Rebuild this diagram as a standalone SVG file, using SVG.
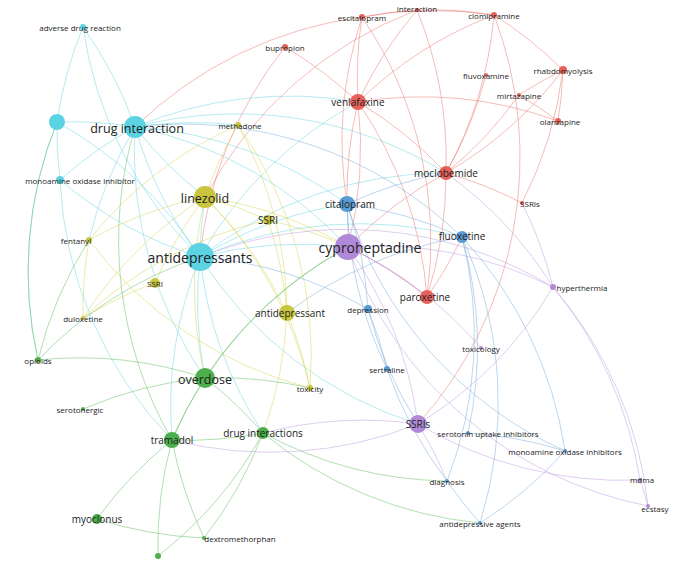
<svg xmlns="http://www.w3.org/2000/svg" width="685" height="565" viewBox="0 0 685 565">
<style>
text{font-family:"Open Sans","Noto Sans",sans-serif;fill:#222;text-anchor:middle;dominant-baseline:central}
.s{font-size:8px}.m{font-size:10px}.l{font-size:12.5px}.xl{font-size:14px}
path{fill:none;stroke-width:1;stroke-opacity:.45}
.c{stroke:#5bd3e2}.y{stroke:#d4d040}.g{stroke:#55b855}.r{stroke:#ea6a64}.b{stroke:#6aa3d8}.p{stroke:#bb92dc}
.nc{fill:#5bd3e2}.ny{fill:#c9c63e}.ng{fill:#4caf4c}.nr{fill:#e8605a}.nb{fill:#5b9bd5}.np{fill:#b08ad8}
</style>
<rect width="685" height="565" fill="#fff"/>
<g id="connectors">
<path class="c" d="M200 257A400 400 0 0 1 135 127"/><path class="c" d="M200 257A400 400 0 0 0 57 122"/><path class="c" d="M200 257A400 400 0 0 1 60 180"/><path class="c" d="M200 257A400 400 0 0 1 205 197"/><path class="c" d="M200 257A400 400 0 0 1 348 247"/><path class="c" d="M200 257A400 400 0 0 1 347 204"/><path class="c" d="M200 257A400 400 0 0 1 358 102"/><path class="c" d="M200 257A400 400 0 0 0 205 378"/><path class="c" d="M200 257A400 400 0 0 0 172 440"/><path class="c" d="M200 257A400 400 0 0 0 263 433"/><path class="c" d="M200 257A400 400 0 0 0 418 424"/><path class="c" d="M135 127A400 400 0 0 0 83 27"/><path class="c" d="M135 127A400 400 0 0 0 57 122"/><path class="c" d="M135 127A400 400 0 0 0 60 180"/><path class="c" d="M135 127A400 400 0 0 0 205 197"/><path class="c" d="M135 127A400 400 0 0 1 238 125"/><path class="c" d="M135 127A400 400 0 0 1 348 247"/><path class="c" d="M135 127A400 400 0 0 0 89 240"/><path class="c" d="M135 127A400 400 0 0 1 358 102"/><path class="c" d="M57 122A400 400 0 0 1 83 27"/><path class="c" d="M57 122A400 400 0 0 0 60 180"/><path class="c" d="M60 180A400 400 0 0 0 172 440"/><path class="c" d="M135 127A400 400 0 0 0 205 378"/><path class="c" d="M200 257A400 400 0 0 1 446 173"/><path class="c" d="M135 127A400 400 0 0 1 347 204"/><path class="c" d="M200 257A400 400 0 0 1 462 237"/><path class="c" d="M83 27A400 400 0 0 0 200 257"/><path class="c" d="M57 122A400 400 0 0 0 38 360"/><path class="c" d="M135 127A400 400 0 0 1 446 173"/>
<path class="r" d="M358 102A400 400 0 0 1 362 17"/><path class="r" d="M358 102A400 400 0 0 1 417 10"/><path class="r" d="M358 102A400 400 0 0 1 494 15"/><path class="r" d="M358 102A400 400 0 0 0 285 47"/><path class="r" d="M358 102A400 400 0 0 1 446 173"/><path class="r" d="M358 102A400 400 0 0 1 427 297"/><path class="r" d="M358 102A400 400 0 0 0 347 204"/><path class="r" d="M446 173A400 400 0 0 0 494 15"/><path class="r" d="M446 173A400 400 0 0 0 486 75"/><path class="r" d="M446 173A400 400 0 0 0 563 70"/><path class="r" d="M446 173A400 400 0 0 0 519 95"/><path class="r" d="M446 173A400 400 0 0 1 427 297"/><path class="r" d="M446 173A400 400 0 0 0 348 247"/><path class="r" d="M362 17A400 400 0 0 1 417 10"/><path class="r" d="M362 17A400 400 0 0 1 494 15"/><path class="r" d="M417 10A400 400 0 0 1 494 15"/><path class="r" d="M494 15A400 400 0 0 1 563 70"/><path class="r" d="M563 70A400 400 0 0 1 558 121"/><path class="r" d="M519 95A400 400 0 0 1 558 121"/><path class="r" d="M427 297A400 400 0 0 0 462 237"/><path class="r" d="M362 17A400 400 0 0 1 427 297"/><path class="r" d="M417 10A400 400 0 0 1 446 173"/><path class="r" d="M522 203A400 400 0 0 0 446 173"/><path class="r" d="M427 297A400 400 0 0 0 348 247"/><path class="r" d="M358 102A400 400 0 0 1 348 247"/><path class="r" d="M563 70A400 400 0 0 0 519 95"/><path class="r" d="M362 17A400 400 0 0 0 347 204"/><path class="r" d="M285 47A400 400 0 0 0 200 257"/><path class="r" d="M494 15A400 400 0 0 1 418 424"/><path class="r" d="M358 102A400 400 0 0 1 558 121"/><path class="r" d="M417 10A400 400 0 0 0 205 197"/><path class="r" d="M563 70A400 400 0 0 1 522 203"/><path class="r" d="M362 17A400 400 0 0 0 135 127"/>
<path class="y" d="M205 197A400 400 0 0 1 268 220"/><path class="y" d="M205 197A400 400 0 0 1 238 125"/><path class="y" d="M205 197A400 400 0 0 0 89 240"/><path class="y" d="M205 197A400 400 0 0 1 287 313"/><path class="y" d="M205 197A400 400 0 0 0 155 283"/><path class="y" d="M205 197A400 400 0 0 1 348 247"/><path class="y" d="M205 197A400 400 0 0 1 310 388"/><path class="y" d="M205 197A400 400 0 0 0 83 318"/><path class="y" d="M268 220A400 400 0 0 1 287 313"/><path class="y" d="M268 220A400 400 0 0 1 348 247"/><path class="y" d="M287 313A400 400 0 0 1 310 388"/><path class="y" d="M89 240A400 400 0 0 0 83 318"/><path class="y" d="M238 125A400 400 0 0 1 287 313"/><path class="y" d="M287 313A400 400 0 0 1 263 433"/><path class="y" d="M205 197A400 400 0 0 0 205 378"/><path class="y" d="M155 283A400 400 0 0 0 83 318"/><path class="y" d="M238 125A400 400 0 0 0 89 240"/><path class="y" d="M238 125A400 400 0 0 1 310 388"/><path class="y" d="M89 240A400 400 0 0 0 310 388"/><path class="y" d="M268 220A400 400 0 0 0 83 318"/>
<path class="g" d="M205 378A400 400 0 0 0 172 440"/><path class="g" d="M205 378A400 400 0 0 1 263 433"/><path class="g" d="M205 378A400 400 0 0 0 38 360"/><path class="g" d="M172 440A400 400 0 0 0 204 538"/><path class="g" d="M172 440A400 400 0 0 0 97 519"/><path class="g" d="M172 440A400 400 0 0 0 158 556"/><path class="g" d="M263 433A400 400 0 0 1 204 538"/><path class="g" d="M263 433A400 400 0 0 0 447 481"/><path class="g" d="M38 360A400 400 0 0 1 89 240"/><path class="g" d="M205 378A400 400 0 0 0 83 409"/><path class="g" d="M172 440A400 400 0 0 0 263 433"/><path class="g" d="M205 378A400 400 0 0 1 310 388"/><path class="g" d="M97 519A400 400 0 0 0 204 538"/><path class="g" d="M263 433A400 400 0 0 1 158 556"/><path class="g" d="M38 360A400 400 0 0 1 200 257"/><path class="g" d="M172 440A400 400 0 0 1 348 247"/><path class="g" d="M263 433A400 400 0 0 0 480 523"/><path class="g" d="M38 360A400 400 0 0 1 57 122"/><path class="g" d="M172 440A400 400 0 0 1 135 127"/><path class="g" d="M205 378A400 400 0 0 1 348 247"/>
<path class="b" d="M347 204A400 400 0 0 1 462 237"/><path class="b" d="M347 204A400 400 0 0 1 368 309"/><path class="b" d="M347 204A400 400 0 0 0 387 369"/><path class="b" d="M462 237A400 400 0 0 1 468 433"/><path class="b" d="M462 237A400 400 0 0 1 565 451"/><path class="b" d="M462 237A400 400 0 0 1 447 481"/><path class="b" d="M368 309A400 400 0 0 1 387 369"/><path class="b" d="M468 433A400 400 0 0 1 565 451"/><path class="b" d="M447 481A400 400 0 0 0 480 523"/><path class="b" d="M347 204A400 400 0 0 1 348 247"/><path class="b" d="M462 237A400 400 0 0 1 480 523"/><path class="b" d="M368 309A400 400 0 0 0 418 424"/><path class="b" d="M347 204A400 400 0 0 1 446 173"/><path class="b" d="M368 309A400 400 0 0 0 200 257"/><path class="b" d="M387 369A400 400 0 0 0 447 481"/><path class="b" d="M565 451A400 400 0 0 1 480 523"/><path class="b" d="M347 204A400 400 0 0 0 565 451"/><path class="b" d="M462 237A400 400 0 0 0 287 313"/><path class="b" d="M135 127A400 400 0 0 1 462 237"/>
<path class="p" d="M348 247A400 400 0 0 1 418 424"/><path class="p" d="M348 247A400 400 0 0 1 553 287"/><path class="p" d="M348 247A400 400 0 0 1 481 348"/><path class="p" d="M418 424A400 400 0 0 0 553 287"/><path class="p" d="M553 287A400 400 0 0 1 640 480"/><path class="p" d="M553 287A400 400 0 0 1 648 506"/><path class="p" d="M640 480A400 400 0 0 1 648 506"/><path class="p" d="M418 424A400 400 0 0 0 640 480"/><path class="p" d="M418 424A400 400 0 0 1 447 481"/><path class="p" d="M553 287A400 400 0 0 0 446 173"/><path class="p" d="M348 247A400 400 0 0 0 648 506"/><path class="p" d="M418 424A400 400 0 0 0 263 433"/><path class="p" d="M553 287A400 400 0 0 0 522 203"/><path class="p" d="M348 247A400 400 0 0 1 427 297"/><path class="p" d="M553 287A400 400 0 0 0 200 257"/><path class="p" d="M418 424A400 400 0 0 1 172 440"/>
</g>
<g id="n-antidepressants"><circle cx="200" cy="257" r="14" class="nc"/><text x="200" y="257" class="xl">antidepressants</text></g>
<g id="n-druginteraction"><circle cx="135" cy="127" r="11" class="nc"/><text x="137" y="128" class="l">drug interaction</text></g>
<g id="n-cyan-unl"><circle cx="57" cy="122" r="8" class="nc"/></g>
<g id="n-adr"><circle cx="83" cy="27" r="3" class="nc"/><text x="80" y="27" class="s">adverse drug reaction</text></g>
<g id="n-mao"><circle cx="60" cy="180" r="4" class="nc"/><text x="80" y="180" class="s">monoamine oxidase inhibitor</text></g>
<g id="n-linezolid"><circle cx="205" cy="197" r="11" class="ny"/><text x="205" y="198" class="l">linezolid</text></g>
<g id="n-ssri1"><circle cx="268" cy="220" r="5" class="ny"/><text x="268" y="220" class="m">SSRI</text></g>
<g id="n-ssri2"><circle cx="155" cy="283" r="5" class="ny"/><text x="155" y="283" class="s">SSRI</text></g>
<g id="n-antidepressant"><circle cx="287" cy="313" r="8" class="ny"/><text x="290" y="313" class="m">antidepressant</text></g>
<g id="n-methadone"><circle cx="238" cy="125" r="3" class="ny"/><text x="240" y="125" class="s">methadone</text></g>
<g id="n-fentanyl"><circle cx="89" cy="240" r="3" class="ny"/><text x="76" y="240" class="s">fentanyl</text></g>
<g id="n-duloxetine"><circle cx="83" cy="318" r="2" class="ny"/><text x="83" y="318" class="s">duloxetine</text></g>
<g id="n-toxicity"><circle cx="310" cy="388" r="3" class="ny"/><text x="310" y="388" class="s">toxicity</text></g>
<g id="n-overdose"><circle cx="205" cy="378" r="10" class="ng"/><text x="205" y="379" class="l">overdose</text></g>
<g id="n-tramadol"><circle cx="172" cy="440" r="8" class="ng"/><text x="172" y="440" class="m">tramadol</text></g>
<g id="n-druginteractions"><circle cx="263" cy="433" r="6" class="ng"/><text x="263" y="433" class="m">drug interactions</text></g>
<g id="n-opioids"><circle cx="38" cy="360" r="3" class="ng"/><text x="38" y="360" class="s">opioids</text></g>
<g id="n-serotonergic"><circle cx="83" cy="409" r="2" class="ng"/><text x="80" y="409" class="s">serotonergic</text></g>
<g id="n-myoclonus"><circle cx="97" cy="519" r="5" class="ng"/><text x="97" y="519" class="m">myoclonus</text></g>
<g id="n-dext"><circle cx="204" cy="538" r="2" class="ng"/><text x="240" y="538" class="s">dextromethorphan</text></g>
<g id="n-green-unl"><circle cx="158" cy="556" r="3" class="ng"/></g>
<g id="n-venlafaxine"><circle cx="358" cy="102" r="8" class="nr"/><text x="358" y="102" class="m">venlafaxine</text></g>
<g id="n-moclobemide"><circle cx="446" cy="173" r="7" class="nr"/><text x="446" y="173" class="m">moclobemide</text></g>
<g id="n-paroxetine"><circle cx="427" cy="297" r="7" class="nr"/><text x="425" y="297" class="m">paroxetine</text></g>
<g id="n-escitalopram"><circle cx="362" cy="17" r="3" class="nr"/><text x="362" y="17" class="s">escitalopram</text></g>
<g id="n-interaction"><circle cx="417" cy="10" r="2" class="nr"/><text x="417" y="8" class="s">interaction</text></g>
<g id="n-clomipramine"><circle cx="494" cy="15" r="3" class="nr"/><text x="494" y="15" class="s">clomipramine</text></g>
<g id="n-bupropion"><circle cx="285" cy="47" r="3" class="nr"/><text x="285" y="47" class="s">bupropion</text></g>
<g id="n-fluvoxamine"><circle cx="486" cy="75" r="2" class="nr"/><text x="486" y="75" class="s">fluvoxamine</text></g>
<g id="n-rhabdo"><circle cx="563" cy="70" r="4" class="nr"/><text x="563" y="70" class="s">rhabdomyolysis</text></g>
<g id="n-mirtazapine"><circle cx="519" cy="95" r="2" class="nr"/><text x="519" y="95" class="s">mirtazapine</text></g>
<g id="n-olanzapine"><circle cx="558" cy="121" r="3" class="nr"/><text x="560" y="121" class="s">olanzapine</text></g>
<g id="n-ssris-r"><circle cx="522" cy="203" r="2" class="nr"/><text x="530" y="203" class="s">SSRIs</text></g>
<g id="n-citalopram"><circle cx="347" cy="204" r="8" class="nb"/><text x="350" y="204" class="m">citalopram</text></g>
<g id="n-fluoxetine"><circle cx="462" cy="237" r="6" class="nb"/><text x="462" y="236" class="m">fluoxetine</text></g>
<g id="n-depression"><circle cx="368" cy="309" r="4" class="nb"/><text x="368" y="309" class="s">depression</text></g>
<g id="n-sertraline"><circle cx="387" cy="369" r="3" class="nb"/><text x="387" y="369" class="s">sertraline</text></g>
<g id="n-sui"><circle cx="468" cy="433" r="2" class="nb"/><text x="488" y="433" class="s">serotonin uptake inhibitors</text></g>
<g id="n-maois"><circle cx="565" cy="451" r="2" class="nb"/><text x="565" y="451" class="s">monoamine oxidase inhibitors</text></g>
<g id="n-diagnosis"><circle cx="447" cy="481" r="2" class="nb"/><text x="447" y="481" class="s">diagnosis</text></g>
<g id="n-antidepagents"><circle cx="480" cy="523" r="2" class="nb"/><text x="480" y="523" class="s">antidepressive agents</text></g>
<g id="n-cyproheptadine"><circle cx="348" cy="247" r="13" class="np"/><text x="370" y="247" class="xl">cyproheptadine</text></g>
<g id="n-ssris-p"><circle cx="418" cy="424" r="9" class="np"/><text x="418" y="424" class="m">SSRIs</text></g>
<g id="n-hyperthermia"><circle cx="553" cy="287" r="3" class="np"/><text x="582" y="287" class="s">hyperthermia</text></g>
<g id="n-toxicology"><circle cx="481" cy="348" r="2" class="np"/><text x="481" y="348" class="s">toxicology</text></g>
<g id="n-mdma"><circle cx="640" cy="480" r="2" class="np"/><text x="642" y="479" class="s">mdma</text></g>
<g id="n-ecstasy"><circle cx="648" cy="506" r="2" class="np"/><text x="655" y="508" class="s">ecstasy</text></g>
</svg>
